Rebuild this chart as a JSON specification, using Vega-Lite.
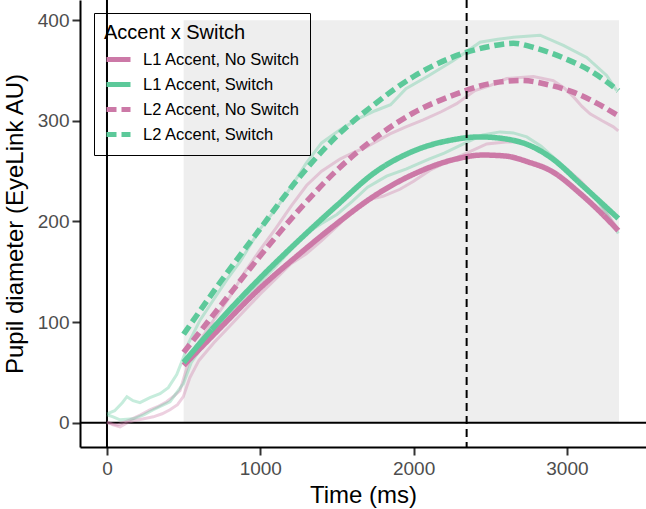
{
  "$schema": "https://vega.github.io/schema/vega-lite/v6.json",
  "width": 566,
  "height": 447,
  "autosize": {"type": "none"},
  "padding": {"left": 80, "top": 0, "right": 0, "bottom": 62},
  "background": "white",
  "datasets": {
    "window": [{"t": 500, "t2": 3340, "v": 0, "v2": 400}],
    "zero": [{"t": 0, "v": 0}],
    "peak": [{"t": 2346}],
    "fit": [
      {"cond": "L1 Accent, No Switch", "t": 500, "v": 57},
      {"cond": "L1 Accent, No Switch", "t": 750, "v": 96},
      {"cond": "L1 Accent, No Switch", "t": 1000, "v": 134},
      {"cond": "L1 Accent, No Switch", "t": 1250, "v": 167},
      {"cond": "L1 Accent, No Switch", "t": 1500, "v": 198},
      {"cond": "L1 Accent, No Switch", "t": 1750, "v": 226},
      {"cond": "L1 Accent, No Switch", "t": 2000, "v": 247},
      {"cond": "L1 Accent, No Switch", "t": 2250, "v": 261},
      {"cond": "L1 Accent, No Switch", "t": 2450, "v": 266},
      {"cond": "L1 Accent, No Switch", "t": 2600, "v": 265},
      {"cond": "L1 Accent, No Switch", "t": 2750, "v": 259},
      {"cond": "L1 Accent, No Switch", "t": 2900, "v": 250},
      {"cond": "L1 Accent, No Switch", "t": 3085, "v": 228},
      {"cond": "L1 Accent, No Switch", "t": 3200, "v": 212},
      {"cond": "L1 Accent, No Switch", "t": 3335, "v": 191},
      {"cond": "L1 Accent, Switch", "t": 500, "v": 60},
      {"cond": "L1 Accent, Switch", "t": 750, "v": 104},
      {"cond": "L1 Accent, Switch", "t": 1000, "v": 144},
      {"cond": "L1 Accent, Switch", "t": 1250, "v": 181},
      {"cond": "L1 Accent, Switch", "t": 1500, "v": 216},
      {"cond": "L1 Accent, Switch", "t": 1750, "v": 249},
      {"cond": "L1 Accent, Switch", "t": 2000, "v": 270},
      {"cond": "L1 Accent, Switch", "t": 2250, "v": 281},
      {"cond": "L1 Accent, Switch", "t": 2430, "v": 284},
      {"cond": "L1 Accent, Switch", "t": 2600, "v": 282},
      {"cond": "L1 Accent, Switch", "t": 2750, "v": 276},
      {"cond": "L1 Accent, Switch", "t": 2900, "v": 263},
      {"cond": "L1 Accent, Switch", "t": 3085, "v": 238},
      {"cond": "L1 Accent, Switch", "t": 3200, "v": 222},
      {"cond": "L1 Accent, Switch", "t": 3335, "v": 203},
      {"cond": "L2 Accent, No Switch", "t": 500, "v": 70},
      {"cond": "L2 Accent, No Switch", "t": 750, "v": 118},
      {"cond": "L2 Accent, No Switch", "t": 1000, "v": 166},
      {"cond": "L2 Accent, No Switch", "t": 1250, "v": 211},
      {"cond": "L2 Accent, No Switch", "t": 1500, "v": 251},
      {"cond": "L2 Accent, No Switch", "t": 1750, "v": 283},
      {"cond": "L2 Accent, No Switch", "t": 2000, "v": 308},
      {"cond": "L2 Accent, No Switch", "t": 2250, "v": 325},
      {"cond": "L2 Accent, No Switch", "t": 2500, "v": 337},
      {"cond": "L2 Accent, No Switch", "t": 2700, "v": 340},
      {"cond": "L2 Accent, No Switch", "t": 2900, "v": 335},
      {"cond": "L2 Accent, No Switch", "t": 3050, "v": 328},
      {"cond": "L2 Accent, No Switch", "t": 3200, "v": 317},
      {"cond": "L2 Accent, No Switch", "t": 3335, "v": 305},
      {"cond": "L2 Accent, Switch", "t": 500, "v": 88},
      {"cond": "L2 Accent, Switch", "t": 750, "v": 142},
      {"cond": "L2 Accent, Switch", "t": 1000, "v": 193},
      {"cond": "L2 Accent, Switch", "t": 1250, "v": 243},
      {"cond": "L2 Accent, Switch", "t": 1500, "v": 285},
      {"cond": "L2 Accent, Switch", "t": 1750, "v": 317},
      {"cond": "L2 Accent, Switch", "t": 2000, "v": 344},
      {"cond": "L2 Accent, Switch", "t": 2250, "v": 363},
      {"cond": "L2 Accent, Switch", "t": 2500, "v": 374},
      {"cond": "L2 Accent, Switch", "t": 2650, "v": 377},
      {"cond": "L2 Accent, Switch", "t": 2800, "v": 372},
      {"cond": "L2 Accent, Switch", "t": 3000, "v": 361},
      {"cond": "L2 Accent, Switch", "t": 3150, "v": 350},
      {"cond": "L2 Accent, Switch", "t": 3335, "v": 330}
    ],
    "raw": [
      {"cond": "L1 Accent, No Switch", "t": 0, "v": 1},
      {"cond": "L1 Accent, No Switch", "t": 40, "v": -2},
      {"cond": "L1 Accent, No Switch", "t": 85, "v": -4},
      {"cond": "L1 Accent, No Switch", "t": 130, "v": 0},
      {"cond": "L1 Accent, No Switch", "t": 172, "v": 2},
      {"cond": "L1 Accent, No Switch", "t": 240, "v": 4},
      {"cond": "L1 Accent, No Switch", "t": 302, "v": 6},
      {"cond": "L1 Accent, No Switch", "t": 360, "v": 9},
      {"cond": "L1 Accent, No Switch", "t": 411, "v": 13},
      {"cond": "L1 Accent, No Switch", "t": 460, "v": 18},
      {"cond": "L1 Accent, No Switch", "t": 498, "v": 26},
      {"cond": "L1 Accent, No Switch", "t": 541, "v": 45},
      {"cond": "L1 Accent, No Switch", "t": 600, "v": 62},
      {"cond": "L1 Accent, No Switch", "t": 700, "v": 80},
      {"cond": "L1 Accent, No Switch", "t": 800, "v": 96},
      {"cond": "L1 Accent, No Switch", "t": 900, "v": 112},
      {"cond": "L1 Accent, No Switch", "t": 1000, "v": 128},
      {"cond": "L1 Accent, No Switch", "t": 1100, "v": 143},
      {"cond": "L1 Accent, No Switch", "t": 1200, "v": 158},
      {"cond": "L1 Accent, No Switch", "t": 1300, "v": 168},
      {"cond": "L1 Accent, No Switch", "t": 1400, "v": 181},
      {"cond": "L1 Accent, No Switch", "t": 1500, "v": 195},
      {"cond": "L1 Accent, No Switch", "t": 1600, "v": 210},
      {"cond": "L1 Accent, No Switch", "t": 1716, "v": 222},
      {"cond": "L1 Accent, No Switch", "t": 1800, "v": 225},
      {"cond": "L1 Accent, No Switch", "t": 1911, "v": 232},
      {"cond": "L1 Accent, No Switch", "t": 2000, "v": 240},
      {"cond": "L1 Accent, No Switch", "t": 2107, "v": 251},
      {"cond": "L1 Accent, No Switch", "t": 2200, "v": 258},
      {"cond": "L1 Accent, No Switch", "t": 2346, "v": 268},
      {"cond": "L1 Accent, No Switch", "t": 2477, "v": 277},
      {"cond": "L1 Accent, No Switch", "t": 2600, "v": 279},
      {"cond": "L1 Accent, No Switch", "t": 2694, "v": 279},
      {"cond": "L1 Accent, No Switch", "t": 2800, "v": 272},
      {"cond": "L1 Accent, No Switch", "t": 2911, "v": 261},
      {"cond": "L1 Accent, No Switch", "t": 3000, "v": 252},
      {"cond": "L1 Accent, No Switch", "t": 3085, "v": 241},
      {"cond": "L1 Accent, No Switch", "t": 3200, "v": 222},
      {"cond": "L1 Accent, No Switch", "t": 3325, "v": 194},
      {"cond": "L1 Accent, Switch", "t": 0, "v": 8},
      {"cond": "L1 Accent, Switch", "t": 40, "v": 6},
      {"cond": "L1 Accent, Switch", "t": 85, "v": 3},
      {"cond": "L1 Accent, Switch", "t": 172, "v": 4},
      {"cond": "L1 Accent, Switch", "t": 240, "v": 8},
      {"cond": "L1 Accent, Switch", "t": 302, "v": 13},
      {"cond": "L1 Accent, Switch", "t": 411, "v": 21},
      {"cond": "L1 Accent, Switch", "t": 498, "v": 39},
      {"cond": "L1 Accent, Switch", "t": 550, "v": 60},
      {"cond": "L1 Accent, Switch", "t": 650, "v": 82},
      {"cond": "L1 Accent, Switch", "t": 750, "v": 100},
      {"cond": "L1 Accent, Switch", "t": 900, "v": 125},
      {"cond": "L1 Accent, Switch", "t": 1000, "v": 140},
      {"cond": "L1 Accent, Switch", "t": 1100, "v": 155},
      {"cond": "L1 Accent, Switch", "t": 1200, "v": 172},
      {"cond": "L1 Accent, Switch", "t": 1300, "v": 188},
      {"cond": "L1 Accent, Switch", "t": 1400, "v": 198},
      {"cond": "L1 Accent, Switch", "t": 1500, "v": 207},
      {"cond": "L1 Accent, Switch", "t": 1600, "v": 220},
      {"cond": "L1 Accent, Switch", "t": 1700, "v": 234},
      {"cond": "L1 Accent, Switch", "t": 1824, "v": 245},
      {"cond": "L1 Accent, Switch", "t": 1950, "v": 252},
      {"cond": "L1 Accent, Switch", "t": 2100, "v": 262},
      {"cond": "L1 Accent, Switch", "t": 2200, "v": 268},
      {"cond": "L1 Accent, Switch", "t": 2325, "v": 277},
      {"cond": "L1 Accent, Switch", "t": 2450, "v": 286},
      {"cond": "L1 Accent, Switch", "t": 2564, "v": 289},
      {"cond": "L1 Accent, Switch", "t": 2650, "v": 288},
      {"cond": "L1 Accent, Switch", "t": 2738, "v": 284},
      {"cond": "L1 Accent, Switch", "t": 2830, "v": 275},
      {"cond": "L1 Accent, Switch", "t": 2911, "v": 264},
      {"cond": "L1 Accent, Switch", "t": 3000, "v": 252},
      {"cond": "L1 Accent, Switch", "t": 3100, "v": 237},
      {"cond": "L1 Accent, Switch", "t": 3200, "v": 220},
      {"cond": "L1 Accent, Switch", "t": 3280, "v": 203},
      {"cond": "L1 Accent, Switch", "t": 3335, "v": 188},
      {"cond": "L2 Accent, No Switch", "t": 0, "v": 0},
      {"cond": "L2 Accent, No Switch", "t": 70, "v": -2},
      {"cond": "L2 Accent, No Switch", "t": 150, "v": 3},
      {"cond": "L2 Accent, No Switch", "t": 220, "v": 8},
      {"cond": "L2 Accent, No Switch", "t": 280, "v": 13},
      {"cond": "L2 Accent, No Switch", "t": 330, "v": 16},
      {"cond": "L2 Accent, No Switch", "t": 389, "v": 21},
      {"cond": "L2 Accent, No Switch", "t": 440, "v": 27},
      {"cond": "L2 Accent, No Switch", "t": 476, "v": 32},
      {"cond": "L2 Accent, No Switch", "t": 530, "v": 59},
      {"cond": "L2 Accent, No Switch", "t": 600, "v": 80},
      {"cond": "L2 Accent, No Switch", "t": 700, "v": 103},
      {"cond": "L2 Accent, No Switch", "t": 800, "v": 125},
      {"cond": "L2 Accent, No Switch", "t": 900, "v": 150},
      {"cond": "L2 Accent, No Switch", "t": 1000, "v": 172},
      {"cond": "L2 Accent, No Switch", "t": 1100, "v": 193},
      {"cond": "L2 Accent, No Switch", "t": 1200, "v": 215},
      {"cond": "L2 Accent, No Switch", "t": 1303, "v": 236},
      {"cond": "L2 Accent, No Switch", "t": 1400, "v": 250},
      {"cond": "L2 Accent, No Switch", "t": 1520, "v": 262},
      {"cond": "L2 Accent, No Switch", "t": 1600, "v": 268},
      {"cond": "L2 Accent, No Switch", "t": 1694, "v": 274},
      {"cond": "L2 Accent, No Switch", "t": 1846, "v": 287},
      {"cond": "L2 Accent, No Switch", "t": 1950, "v": 294},
      {"cond": "L2 Accent, No Switch", "t": 2063, "v": 301},
      {"cond": "L2 Accent, No Switch", "t": 2180, "v": 309},
      {"cond": "L2 Accent, No Switch", "t": 2281, "v": 317},
      {"cond": "L2 Accent, No Switch", "t": 2400, "v": 330},
      {"cond": "L2 Accent, No Switch", "t": 2498, "v": 335},
      {"cond": "L2 Accent, No Switch", "t": 2607, "v": 342},
      {"cond": "L2 Accent, No Switch", "t": 2700, "v": 343},
      {"cond": "L2 Accent, No Switch", "t": 2781, "v": 344},
      {"cond": "L2 Accent, No Switch", "t": 2911, "v": 340},
      {"cond": "L2 Accent, No Switch", "t": 2980, "v": 333},
      {"cond": "L2 Accent, No Switch", "t": 3042, "v": 324},
      {"cond": "L2 Accent, No Switch", "t": 3100, "v": 314},
      {"cond": "L2 Accent, No Switch", "t": 3151, "v": 307},
      {"cond": "L2 Accent, No Switch", "t": 3230, "v": 300},
      {"cond": "L2 Accent, No Switch", "t": 3303, "v": 294},
      {"cond": "L2 Accent, No Switch", "t": 3335, "v": 290},
      {"cond": "L2 Accent, Switch", "t": 0, "v": 9},
      {"cond": "L2 Accent, Switch", "t": 50, "v": 12},
      {"cond": "L2 Accent, Switch", "t": 100, "v": 20},
      {"cond": "L2 Accent, Switch", "t": 130, "v": 26},
      {"cond": "L2 Accent, Switch", "t": 170, "v": 22},
      {"cond": "L2 Accent, Switch", "t": 215, "v": 20},
      {"cond": "L2 Accent, Switch", "t": 280, "v": 25},
      {"cond": "L2 Accent, Switch", "t": 346, "v": 29},
      {"cond": "L2 Accent, Switch", "t": 400, "v": 35},
      {"cond": "L2 Accent, Switch", "t": 455, "v": 48},
      {"cond": "L2 Accent, Switch", "t": 499, "v": 65},
      {"cond": "L2 Accent, Switch", "t": 531, "v": 79},
      {"cond": "L2 Accent, Switch", "t": 607, "v": 102},
      {"cond": "L2 Accent, Switch", "t": 694, "v": 122},
      {"cond": "L2 Accent, Switch", "t": 781, "v": 142},
      {"cond": "L2 Accent, Switch", "t": 868, "v": 160},
      {"cond": "L2 Accent, Switch", "t": 1000, "v": 193},
      {"cond": "L2 Accent, Switch", "t": 1100, "v": 212},
      {"cond": "L2 Accent, Switch", "t": 1200, "v": 234},
      {"cond": "L2 Accent, Switch", "t": 1300, "v": 258},
      {"cond": "L2 Accent, Switch", "t": 1400, "v": 278},
      {"cond": "L2 Accent, Switch", "t": 1520, "v": 291},
      {"cond": "L2 Accent, Switch", "t": 1650, "v": 303},
      {"cond": "L2 Accent, Switch", "t": 1750, "v": 310},
      {"cond": "L2 Accent, Switch", "t": 1850, "v": 316},
      {"cond": "L2 Accent, Switch", "t": 1950, "v": 332},
      {"cond": "L2 Accent, Switch", "t": 2100, "v": 345},
      {"cond": "L2 Accent, Switch", "t": 2250, "v": 359},
      {"cond": "L2 Accent, Switch", "t": 2350, "v": 369},
      {"cond": "L2 Accent, Switch", "t": 2433, "v": 378},
      {"cond": "L2 Accent, Switch", "t": 2550, "v": 381},
      {"cond": "L2 Accent, Switch", "t": 2650, "v": 383},
      {"cond": "L2 Accent, Switch", "t": 2825, "v": 385},
      {"cond": "L2 Accent, Switch", "t": 2977, "v": 375},
      {"cond": "L2 Accent, Switch", "t": 3129, "v": 363},
      {"cond": "L2 Accent, Switch", "t": 3259, "v": 345},
      {"cond": "L2 Accent, Switch", "t": 3325, "v": 330}
    ]
  },
  "layer": [
    {
      "data": {"name": "window"},
      "mark": {"type": "rect", "color": "#EEEEEE"},
      "encoding": {
        "x": {
          "field": "t", "type": "quantitative", "title": "Time (ms)",
          "scale": {"domain": [-176, 3516], "nice": false, "zero": false},
          "axis": {"values": [0, 1000, 2000, 3000], "format": "d"}
        },
        "x2": {"field": "t2"},
        "y": {
          "field": "v", "type": "quantitative", "title": "Pupil diameter (EyeLink AU)",
          "scale": {"domain": [-24, 420], "nice": false, "zero": false},
          "axis": {"values": [0, 100, 200, 300, 400], "format": "d"}
        },
        "y2": {"field": "v2"}
      }
    },
    {
      "data": {"name": "zero"},
      "mark": {"type": "rule", "color": "black", "strokeWidth": 2},
      "encoding": {
        "y": {"field": "v", "type": "quantitative", "title": "Pupil diameter (EyeLink AU)"}
      }
    },
    {
      "data": {"name": "zero"},
      "mark": {"type": "rule", "color": "black", "strokeWidth": 2},
      "encoding": {
        "x": {"field": "t", "type": "quantitative", "title": "Time (ms)"}
      }
    },
    {
      "data": {"name": "raw"},
      "transform": [{"filter": {"field": "cond", "oneOf": ["L1 Accent, No Switch", "L2 Accent, No Switch"]}}],
      "mark": {"type": "line", "strokeWidth": 3, "strokeOpacity": 0.35, "color": "#CC79A7"},
      "encoding": {
        "x": {"field": "t", "type": "quantitative", "title": "Time (ms)"},
        "y": {"field": "v", "type": "quantitative", "title": "Pupil diameter (EyeLink AU)"},
        "detail": {"field": "cond"}
      }
    },
    {
      "data": {"name": "raw"},
      "transform": [{"filter": {"field": "cond", "oneOf": ["L1 Accent, Switch", "L2 Accent, Switch"]}}],
      "mark": {"type": "line", "strokeWidth": 3, "strokeOpacity": 0.35, "color": "#5CC99A"},
      "encoding": {
        "x": {"field": "t", "type": "quantitative", "title": "Time (ms)"},
        "y": {"field": "v", "type": "quantitative", "title": "Pupil diameter (EyeLink AU)"},
        "detail": {"field": "cond"}
      }
    },
    {
      "data": {"name": "fit"},
      "mark": {"type": "line", "strokeWidth": 5.5, "interpolate": "monotone"},
      "encoding": {
        "x": {"field": "t", "type": "quantitative", "title": "Time (ms)"},
        "y": {"field": "v", "type": "quantitative", "title": "Pupil diameter (EyeLink AU)"},
        "color": {
          "field": "cond",
          "type": "nominal",
          "title": "Accent x Switch",
          "scale": {"domain": ["L1 Accent, No Switch", "L1 Accent, Switch", "L2 Accent, No Switch", "L2 Accent, Switch"], "range": ["#CC79A7", "#5CC99A", "#CC79A7", "#5CC99A"]}
        },
        "strokeDash": {
          "field": "cond",
          "type": "nominal",
          "title": "Accent x Switch",
          "scale": {"domain": ["L1 Accent, No Switch", "L1 Accent, Switch", "L2 Accent, No Switch", "L2 Accent, Switch"], "range": [[1, 0], [1, 0], [10, 5], [10, 5]]}
        }
      }
    },
    {
      "data": {"name": "peak"},
      "mark": {"type": "rule", "color": "black", "strokeWidth": 2, "strokeDash": [8, 5]},
      "encoding": {
        "x": {"field": "t", "type": "quantitative", "title": "Time (ms)"}
      }
    }
  ],
  "config": {
    "font": "Liberation Sans",
    "view": {"stroke": null},
    "axis": {
      "grid": false,
      "domainColor": "black",
      "domainWidth": 2,
      "tickColor": "#333333",
      "tickWidth": 2,
      "tickSize": 8,
      "labelColor": "#4D4D4D",
      "labelFontSize": 19,
      "labelFont": "Liberation Sans",
      "titleFont": "Liberation Sans",
      "titleFontSize": 24,
      "titleFontWeight": "normal",
      "titleColor": "black"
    },
    "axisX": {"labelPadding": 4, "titlePadding": 5, "labelFlush": false},
    "axisY": {"labelPadding": 3, "titlePadding": 10},
    "legend": {
      "orient": "none",
      "legendX": 14,
      "legendY": 13,
      "strokeColor": "black",
      "padding": 10,
      "titleFontSize": 20,
      "titleFontWeight": "normal",
      "titleColor": "black",
      "titlePadding": 2,
      "labelFontSize": 16.5,
      "labelColor": "black",
      "symbolType": "stroke",
      "symbolSize": 576,
      "symbolStrokeWidth": 5,
      "rowPadding": 0,
      "labelOffset": 10
    }
  }
}
